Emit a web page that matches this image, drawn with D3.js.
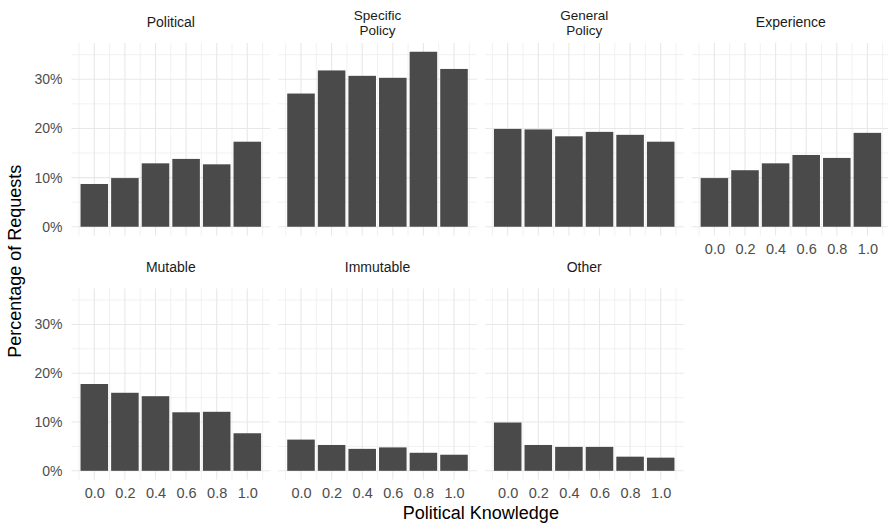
<!DOCTYPE html>
<html>
<head>
<meta charset="utf-8">
<script src="https://cdn.jsdelivr.net/npm/d3@7/dist/d3.min.js"></script>
<style>
  html, body { margin: 0; padding: 0; background: #fff; }
  svg { display: block; font-family: "Liberation Sans", Arial, sans-serif; }
</style>
</head>
<body>
<svg id="chart" width="888" height="527"></svg>
<script>
// ---- data ----
const knowledge = [0.0, 0.2, 0.4, 0.6, 0.8, 1.0];
const xTickLabels = ["0.0", "0.2", "0.4", "0.6", "0.8", "1.0"];
const yTicks = [0, 10, 20, 30];
const panelNames = ["Political", "Specific\nPolicy", "General\nPolicy", "Experience", "Mutable", "Immutable", "Other"];
const political   = [8.7, 9.9, 12.9, 13.8, 12.7, 17.3];
const specific    = [27.1, 31.8, 30.7, 30.3, 35.6, 32.1];
const general     = [19.9, 19.8, 18.4, 19.3, 18.7, 17.3];
const experience  = [9.9, 11.5, 12.9, 14.6, 14.0, 19.1];
const mutable     = [17.8, 16.0, 15.3, 12.0, 12.1, 7.7];
const immutable   = [6.4, 5.3, 4.5, 4.8, 3.7, 3.3];
const other       = [9.9, 5.3, 4.9, 4.9, 2.9, 2.7];
const seriesValues = [political, specific, general, experience, mutable, immutable, other];

// ---- layout ----
const svg = d3.select("#chart");
const ncol = 4;
const left0 = 71.5, colStep = 206.7, panelW = 198.6;
const rows = [{top: 43, bottom: 235.5}, {top: 288.5, bottom: 479.5}];
const barWidth = 0.18;

const allMax = d3.max(seriesValues.flat());
const yPad = allMax * 0.05;
const xMin = -barWidth / 2, xMax = 1 + barWidth / 2;
const xPad = (xMax - xMin) * 0.05;

const x = d3.scaleLinear().domain([xMin - xPad, xMax + xPad]).range([0, panelW]);
const xMinor = d3.range(-0.1, 1.1001, 0.1).map(v => Math.round(v * 10) / 10);
const yMinor = [5, 15, 25, 35];

const gridColor = "#E8E8E8";

panelNames.forEach((name, i) => {
  const col = i % ncol, row = Math.floor(i / ncol);
  const r = rows[row];
  const y = d3.scaleLinear().domain([-yPad, allMax + yPad]).range([r.bottom, r.top]);
  const g = svg.append("g").attr("transform", `translate(${left0 + col * colStep},0)`);

  // minor grid
  g.selectAll(".vminor").data(xMinor.filter(v => !knowledge.some(k => Math.abs(k - v) < 1e-6)))
    .enter().append("line")
    .attr("x1", d => x(d)).attr("x2", d => x(d))
    .attr("y1", r.top).attr("y2", r.bottom)
    .attr("stroke", "#EFEFEF").attr("stroke-width", 0.9);
  g.selectAll(".hminor").data(yMinor.filter(v => y(v) >= r.top))
    .enter().append("line")
    .attr("x1", 0).attr("x2", panelW)
    .attr("y1", d => y(d)).attr("y2", d => y(d))
    .attr("stroke", "#EFEFEF").attr("stroke-width", 0.9);
  // major grid
  g.selectAll(".vmajor").data(knowledge).enter().append("line")
    .attr("x1", d => x(d)).attr("x2", d => x(d))
    .attr("y1", r.top).attr("y2", r.bottom)
    .attr("stroke", gridColor).attr("stroke-width", 1.1);
  g.selectAll(".hmajor").data(yTicks).enter().append("line")
    .attr("x1", 0).attr("x2", panelW)
    .attr("y1", d => y(d)).attr("y2", d => y(d))
    .attr("stroke", gridColor).attr("stroke-width", 1.1);

  // bars
  const vals = seriesValues[i];
  g.selectAll(".bar").data(knowledge).enter().append("rect")
    .attr("x", d => x(d - barWidth / 2))
    .attr("width", d => x(d + barWidth / 2) - x(d - barWidth / 2))
    .attr("y", (d, j) => y(vals[j]))
    .attr("height", (d, j) => y(0) - y(vals[j]))
    .attr("fill", "#4A4A4A");

  // strip label
  const lines = name.split("\n");
  const centerY = row === 0 ? 22.3 : 267;
  const lh = 15;
  const fs = lines.length > 1 ? 13.5 : 14;
  const strip = g.append("text")
    .attr("text-anchor", "middle")
    .attr("font-size", fs).attr("fill", "#1A1A1A");
  lines.forEach((ln, k) => {
    strip.append("tspan")
      .attr("x", panelW / 2)
      .attr("y", centerY + 5 + (k - (lines.length - 1) / 2) * lh)
      .text(ln);
  });

  // y axis labels (first column)
  if (col === 0) {
    const ax = d3.axisLeft(y).tickValues(yTicks).tickSize(0).tickPadding(9)
      .tickFormat(d => d + "%");
    const ag = g.append("g").call(ax);
    ag.select(".domain").remove();
    ag.selectAll("text").attr("font-size", 14).attr("fill", "#4D4D4D")
      .attr("font-family", "Liberation Sans, Arial, sans-serif");
  }
  // x axis labels (bottom of each column)
  const hasBelow = (i + ncol) < panelNames.length;
  if (!hasBelow) {
    const ax = d3.axisBottom(x).tickValues(knowledge).tickSize(0).tickPadding(8)
      .tickFormat((d, j) => xTickLabels[j]);
    const ag = g.append("g").attr("transform", `translate(0,${r.bottom})`).call(ax);
    ag.select(".domain").remove();
    ag.selectAll("text").attr("font-size", 14.5).attr("fill", "#4D4D4D")
      .attr("font-family", "Liberation Sans, Arial, sans-serif");
  }
});

// axis titles
const panelsLeft = left0, panelsRight = left0 + 3 * colStep + panelW;
svg.append("text")
  .attr("x", (panelsLeft + panelsRight) / 2).attr("y", 519)
  .attr("text-anchor", "middle").attr("font-size", 18).attr("fill", "#000")
  .text("Political Knowledge");
svg.append("text")
  .attr("transform", `translate(21,${(rows[0].top + rows[1].bottom) / 2}) rotate(-90)`)
  .attr("text-anchor", "middle").attr("font-size", 18).attr("fill", "#000")
  .text("Percentage of Requests");
</script>
</body>
</html>
